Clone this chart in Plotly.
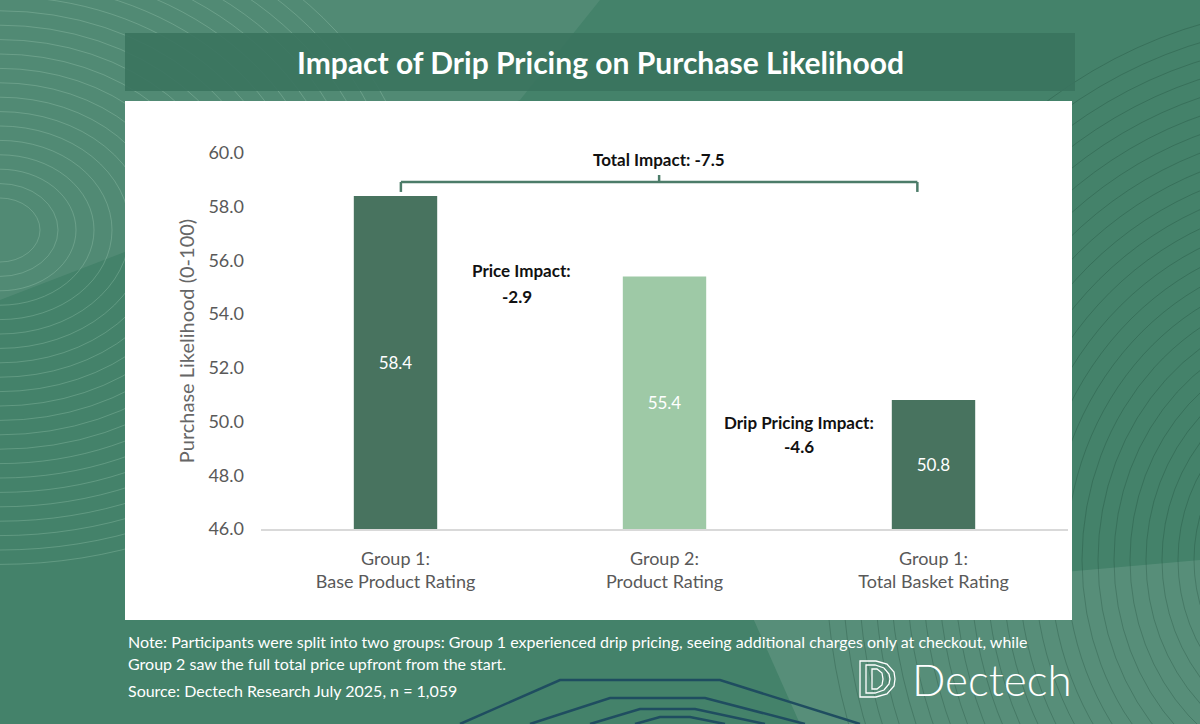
import plotly.graph_objects as go

# ---------------- data ----------------
categories = ["Group 1:<br>Base Product Rating",
              "Group 2:<br>Product Rating",
              "Group 1:<br>Total Basket Rating"]
values = [58.4, 55.4, 50.8]
bar_colors = ["#48735f", "#9ec9a6", "#48735f"]
y_ticks = [46, 48, 50, 52, 54, 56, 58, 60]
impact_labels = ["Total Impact:", "Price Impact:", "Drip Pricing Impact:"]
impact_values = [-7.5, -2.9, -4.6]

title = "Impact of Drip Pricing on Purchase Likelihood"
note1 = "Note: Participants were split into two groups: Group 1 experienced drip pricing, seeing additional charges only at checkout, while"
note2 = "Group 2 saw the full total price upfront from the start."
source = "Source: Dectech Research July 2025, n = 1,059"

FONT = "Lato"
W, H = 1200, 724
L, R, T, B = 261, 132, 153, 195
PW, PH = W - L - R, H - T - B


def PX(x):
    return (x - L) / PW


def PY(y):
    return (H - B - y) / PH


def path_px(points, close=False):
    s = "M " + " L ".join(f"{PX(x):.5f},{PY(y):.5f}" for x, y in points)
    return s + (" Z" if close else "")


fig = go.Figure()
fig.add_trace(go.Bar(
    x=categories, y=[v - 46 for v in values], base=46,
    marker=dict(color=bar_colors, line=dict(width=0)),
    text=[f"{v:.1f}" for v in values], textposition="inside",
    insidetextanchor="middle",
    textfont=dict(family=FONT, size=17, color="white"),
    width=0.31, hoverinfo="skip", showlegend=False,
))

shapes = []
# background decorations
shapes.append(dict(type="path", xref="paper", yref="paper",
                   path=path_px([(745, 600), (1200, 560), (1200, 724), (800, 724)], True),
                   fillcolor="rgba(255,255,255,0.10)", line=dict(width=0), layer="below"))
shapes.append(dict(type="path", xref="paper", yref="paper",
                   path=path_px([(0, 0), (600, 0), (520, 100), (0, 300)], True),
                   fillcolor="rgba(255,255,255,0.07)", line=dict(width=0), layer="below"))
for r in range(40, 420, 18):
    shapes.append(dict(type="circle", xref="paper", yref="paper",
                       x0=PX(0 - r), x1=PX(0 + r), y0=PY(230 - r * 0.8), y1=PY(230 + r * 0.8),
                       line=dict(color="rgba(200,235,215,0.22)", width=1), layer="below"))
for r in range(120, 520, 16):
    shapes.append(dict(type="circle", xref="paper", yref="paper",
                       x0=PX(1330 - r), x1=PX(1330 + r), y0=PY(560 - r * 1.1), y1=PY(560 + r * 1.1),
                       line=dict(color="rgba(20,60,45,0.25)", width=1), layer="below"))
navy = [
    [(460, 724), (560, 680), (720, 680), (860, 724)],
    [(530, 724), (610, 698), (705, 698), (805, 724)],
    [(590, 724), (640, 709), (695, 709), (765, 724)],
    [(635, 724), (660, 717), (690, 717), (725, 724)],
]
for pts in navy:
    shapes.append(dict(type="path", xref="paper", yref="paper", path=path_px(pts),
                       line=dict(color="#1f4d60", width=2.5), layer="below"))
# title bar
shapes.append(dict(type="rect", xref="paper", yref="paper",
                   x0=PX(125), x1=PX(1075), y0=PY(91), y1=PY(33),
                   fillcolor="rgba(58,115,94,0.9)", line=dict(width=0), layer="below"))
# white panel
shapes.append(dict(type="rect", xref="paper", yref="paper",
                   x0=PX(125), x1=PX(1072), y0=PY(620), y1=PY(101),
                   fillcolor="white", line=dict(width=0), layer="below"))
# bracket for total impact
bc = "#4c7c69"
by, bdrop, btip = 58.92, 58.55, 59.18
bx0, bx1, bxc = 0.02, 1.94, 0.98
for x0, y0, x1, y1 in [(bx0, bdrop, bx0, by), (bx0, by, bx1, by),
                       (bx1, by, bx1, bdrop), (bxc, by, bxc, btip)]:
    shapes.append(dict(type="line", xref="x", yref="y", x0=x0, y0=y0, x1=x1, y1=y1,
                       line=dict(color=bc, width=2.5), layer="above"))
# logo icon
shapes.append(dict(type="path", xref="paper", yref="paper",
                   path=path_px([(860, 661), (876, 661), (887, 664), (894, 672), (895, 679),
                                 (894, 686), (887, 694), (876, 697), (860, 697)], True),
                   line=dict(color="white", width=1.3), fillcolor="rgba(0,0,0,0)", layer="above"))
shapes.append(dict(type="path", xref="paper", yref="paper",
                   path=path_px([(866, 665), (875, 665), (884, 668), (889, 674), (890, 679),
                                 (889, 684), (884, 690), (875, 693), (866, 693)], True),
                   line=dict(color="white", width=1.3), fillcolor="rgba(0,0,0,0)", layer="above"))
shapes.append(dict(type="path", xref="paper", yref="paper",
                   path=path_px([(872, 669), (877, 669), (882, 673), (883, 679),
                                 (882, 685), (877, 689), (872, 689)], True),
                   line=dict(color="white", width=1.3), fillcolor="rgba(0,0,0,0)", layer="above"))

AF = dict(family=FONT, size=17, color="#111111")
ann = []
ann.append(dict(text=f"<b>{title}</b>", x=PX(600), y=PY(62), xref="paper", yref="paper",
                showarrow=False, xanchor="center", yanchor="middle",
                font=dict(family=FONT, size=30, color="white")))
ann.append(dict(text=f"<b>{impact_labels[0]} {impact_values[0]:.1f}</b>", x=bxc, y=59.74,
                xref="x", yref="y", showarrow=False, xanchor="center", yanchor="middle", font=AF))
ann.append(dict(text=f"<b>{impact_labels[1]}</b>", x=0.47, y=55.64, xref="x", yref="y",
                showarrow=False, xanchor="center", yanchor="middle", font=AF))
ann.append(dict(text=f"<b>{impact_values[1]:.1f}</b>", x=0.45, y=54.64, xref="x", yref="y",
                showarrow=False, xanchor="center", yanchor="middle", font=AF))
ann.append(dict(text=f"<b>{impact_labels[2]}</b>", x=1.5, y=49.98, xref="x", yref="y",
                showarrow=False, xanchor="center", yanchor="middle", font=AF))
ann.append(dict(text=f"<b>{impact_values[2]:.1f}</b>", x=1.5, y=49.09, xref="x", yref="y",
                showarrow=False, xanchor="center", yanchor="middle", font=AF))
for txt, yy in [(note1, 641), (note2, 663), (source, 690)]:
    ann.append(dict(text=txt, x=PX(126), y=PY(yy), xref="paper", yref="paper",
                    showarrow=False, xanchor="left", yanchor="middle",
                    font=dict(family=FONT, size=16, color="white")))
ann.append(dict(text="Dectech", x=PX(910), y=PY(679), xref="paper", yref="paper",
                showarrow=False, xanchor="left", yanchor="middle",
                font=dict(family=FONT, size=44, color="white", weight=300)))

fig.update_layout(
    width=W, height=H,
    margin=dict(l=L, r=R, t=T, b=B, pad=0),
    paper_bgcolor="#44826a", plot_bgcolor="rgba(0,0,0,0)",
    font=dict(family=FONT),
    shapes=shapes, annotations=ann,
    bargap=0.69, showlegend=False,
    xaxis=dict(showgrid=False, showline=True, linecolor="#d9d9d9", linewidth=2,
               ticks="", ticklabelstandoff=12,
               tickfont=dict(family=FONT, size=18, color="#595959"),
               fixedrange=True),
    yaxis=dict(range=[46, 60], tickvals=y_ticks, tickformat=".1f", showgrid=False,
               zeroline=False, showline=False, ticks="", ticklabelstandoff=16,
               tickfont=dict(family=FONT, size=18, color="#595959"),
               title=dict(text="Purchase Likelihood (0-100)", standoff=8,
                          font=dict(family=FONT, size=20, color="#666666")),
               fixedrange=True),
)

fig.write_html("out.html", config={"displayModeBar": False},
               post_script="document.body.style.margin='0';")
